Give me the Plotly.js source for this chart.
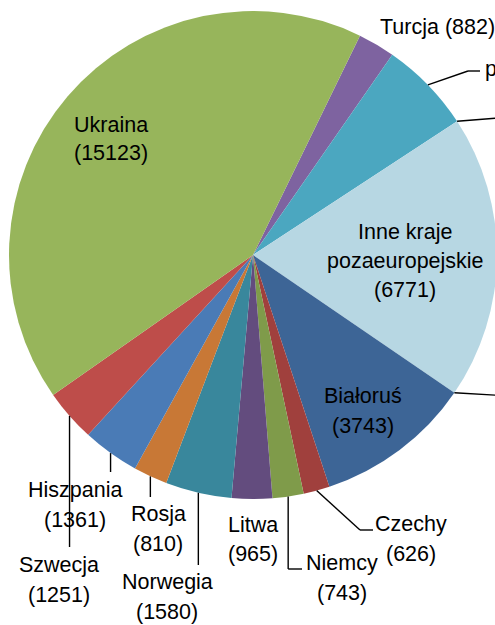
<!DOCTYPE html>
<html>
<head>
<meta charset="utf-8">
<script src="https://cdn.plot.ly/plotly-3.0.1.min.js"></script>
<style>
html,body{margin:0;padding:0;overflow:hidden;background:#fff;}
#chart{width:506px;height:625px;}
</style>
</head>
<body>
<div id="chart"></div>
<script>
// ---- data ----
const countries = ['Turcja', 'pozostałe kraje europejskie', 'Inne kraje\npozaeuropejskie', 'Białoruś', 'Czechy', 'Niemcy', 'Litwa', 'Norwegia', 'Rosja', 'Hiszpania', 'Szwecja', 'Ukraina'];
const values = [882, 2200, 6771, 3743, 626, 743, 965, 1580, 810, 1361, 1251, 15123];
const colors = ['#7E63A0', '#4BA7C0', '#B7D7E3', '#3D6596', '#A0403D', '#7F9B4A', '#634C7E', '#39879C', '#C87836', '#4A7BB6', '#BE4D4A', '#97B55B'];

// ---- layout / styling ----
const W = 506, H = 625;
const pieDomain = {x: [0, 1], y: [(H - 499) / H, (H - 11) / H]};
const rotation = 26;
const FONT = {family: 'Liberation Sans, Arial, sans-serif', size: 21.5, color: '#000'};

// label placement (pixels): x, first line y, line pitch, anchor, inline, leader path
const labelLayout = [
  {x: 378, y: 27, inline: true, anchor: 'left'},
  {x: 483, y: 69, inline: true, anchor: 'left', leader: [[468, 71], [480, 71]]},
  {x: 405, y: 232, pitch: 29.2},
  {x: 363, y: 396, pitch: 30},
  {x: 411, y: 523.5, pitch: 30, leader: [[360, 530], [373, 530]]},
  {x: 342, y: 563, pitch: 30, leader: [[null, 569], [302, 569]]},
  {x: 252.5, y: 524.5, pitch: 29.5},
  {x: 167, y: 582, pitch: 29.5, leader: [[null, 565]]},
  {x: 158, y: 513.5, pitch: 30, leader: [[null, 497]]},
  {x: 75, y: 489.5, pitch: 30, leader: [[null, 472]]},
  {x: 59, y: 564.5, pitch: 30, leader: [[null, 547]]},
  {x: 111, y: 124.5, pitch: 28}
];

// pie geometry derived from the domain
const cx = W * (pieDomain.x[0] + pieDomain.x[1]) / 2;
const cy = H * (1 - (pieDomain.y[0] + pieDomain.y[1]) / 2);
const R = Math.min(W * (pieDomain.x[1] - pieDomain.x[0]), H * (pieDomain.y[1] - pieDomain.y[0])) / 2;
const total = values.reduce((a, b) => a + b, 0);
const angleAt = cum => (rotation + 360 * cum / total) * Math.PI / 180;
const edge = a => [cx + R * Math.sin(a), cy - R * Math.cos(a)];
const px = x => x / W, py = y => 1 - y / H;

const annotations = [];
const shapes = [];
const lineStyle = {color: '#000', width: 1.4};
function addLine(p, q) {
  shapes.push({type: 'line', xref: 'paper', yref: 'paper', x0: px(p[0]), y0: py(p[1]), x1: px(q[0]), y1: py(q[1]), line: lineStyle});
}

let cum = 0;
const bounds = [];
values.forEach((v, i) => {
  const mid = angleAt(cum + v / 2);
  cum += v;
  bounds.push(angleAt(cum));
  const L = labelLayout[i];
  const name = countries[i];
  const valTxt = '(' + v + ')';
  const lines = L.inline ? [name + ' ' + valTxt] : name.split('\n').concat([valTxt]);
  lines.forEach((t, k) => {
    annotations.push({
      xref: 'paper', yref: 'paper', x: px(L.x), y: py(L.y + k * (L.pitch || 0)),
      text: t, showarrow: false, xanchor: L.anchor || 'center', yanchor: 'middle',
      font: FONT
    });
  });
  if (L.leader) {
    let prev = edge(mid);
    L.leader.forEach(pt => {
      const nxt = [pt[0] === null ? prev[0] : pt[0], pt[1]];
      addLine(prev, nxt);
      prev = nxt;
    });
  }
});
// leader lines at the two boundaries on the right (labels outside the frame)
const b1 = edge(bounds[1]);
addLine(b1, [W, b1[1] - 4]);
const b2 = edge(bounds[2]);
addLine(b2, [W, b2[1] + 3]);

const trace = {
  type: 'pie',
  labels: countries,
  values: values,
  sort: false,
  direction: 'clockwise',
  rotation: rotation,
  marker: {colors: colors, line: {width: 0}},
  textinfo: 'none',
  hoverinfo: 'none',
  domain: pieDomain,
  showlegend: false
};

const layout = {
  width: W, height: H,
  margin: {l: 0, r: 0, t: 0, b: 0},
  paper_bgcolor: '#fff',
  showlegend: false,
  annotations: annotations,
  shapes: shapes,
  font: FONT
};

Plotly.newPlot('chart', [trace], layout, {staticPlot: true, displayModeBar: false});
</script>
</body>
</html>
